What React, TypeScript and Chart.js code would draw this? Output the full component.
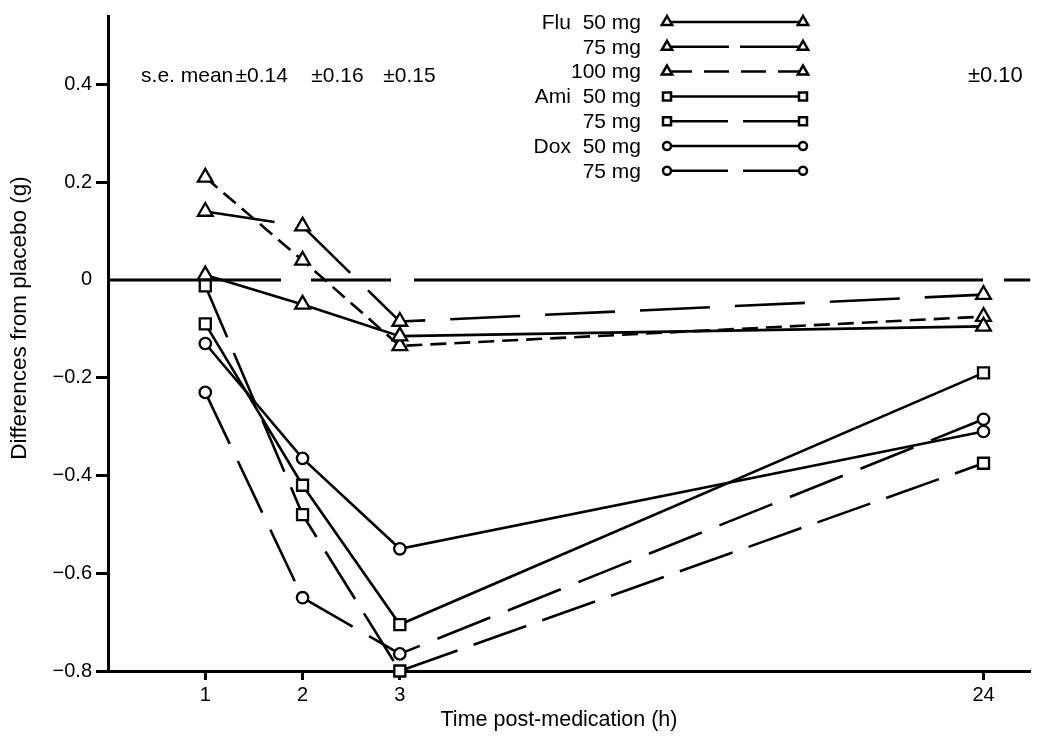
import React, { useEffect, useRef } from 'react';
import { Chart, registerables } from 'chart.js';

Chart.register(...registerables);

// ---- data ----
const timeLabels = ['1', '2', '3', '24'];
// compressed time axis: 1, 2, 3 h evenly spaced, 24 h drawn six steps after 3 h
const timePositions = [1, 2, 3, 9];
const yTickValues = [0.4, 0.2, 0, -0.2, -0.4, -0.6, -0.8];

const flu50 = [0.01, -0.05, -0.115, -0.095];
const flu75 = [0.14, 0.11, -0.085, -0.03];
const flu100 = [0.21, 0.04, -0.135, -0.075];
const ami50 = [-0.09, -0.42, -0.705, -0.19];
const ami75 = [-0.012, -0.48, -0.8, -0.375];
const dox50 = [-0.13, -0.365, -0.55, -0.31];
const dox75 = [-0.23, -0.65, -0.765, -0.285];

const legendLabels = ['Flu  50 mg', '75 mg', '100 mg', 'Ami  50 mg', '75 mg', 'Dox  50 mg', '75 mg'];
const seLabels = ['s.e. mean', '±0.14', '±0.16', '±0.15', '±0.10'];
const xTitle = 'Time post-medication (h)';
const yTitle = 'Differences from placebo (g)';

// ---- styles ----
const FONT = '"Liberation Sans", Arial, Helvetica, sans-serif';
const seriesStyles = [
  { values: flu50, marker: 'triangle', dash: [], legendDash: [] },
  { values: flu75, marker: 'triangle', dash: [70, 25], legendDash: [62, 11] },
  { values: flu100, marker: 'triangle', dash: [16, 8], legendDash: [25, 12] },
  { values: ami50, marker: 'rect', dash: [], legendDash: [] },
  { values: ami75, marker: 'rect', dash: [56, 17], legendDash: [61, 15] },
  { values: dox50, marker: 'circle', dash: [], legendDash: [] },
  { values: dox75, marker: 'circle', dash: [57, 19], legendDash: [61, 15] },
];
const markerRadius: Record<string, number> = { triangle: 8.5, rect: 7.8, circle: 5.7 };

function drawSmallMarker(ctx: CanvasRenderingContext2D, kind: string, x: number, y: number) {
  ctx.beginPath();
  if (kind === 'triangle') {
    const r = 6;
    ctx.moveTo(x, y - r);
    ctx.lineTo(x + r * 0.866, y + r / 2);
    ctx.lineTo(x - r * 0.866, y + r / 2);
    ctx.closePath();
  } else if (kind === 'rect') {
    ctx.rect(x - 4, y - 4, 8, 8);
  } else {
    ctx.arc(x, y, 4, 0, Math.PI * 2);
  }
  ctx.fillStyle = '#fff';
  ctx.fill();
  ctx.stroke();
}

const decorPlugin = {
  id: 'decor',
  beforeDatasetsDraw(chart: any) {
    const { ctx, chartArea, scales } = chart;
    const y0 = scales.y.getPixelForValue(0);
    ctx.save();
    ctx.strokeStyle = '#000';
    ctx.lineWidth = 3;
    ctx.setLineDash([173, 30, 80, 23, 569, 21, 200]);
    ctx.beginPath();
    ctx.moveTo(chartArea.left, y0);
    ctx.lineTo(chartArea.right, y0);
    ctx.stroke();
    ctx.restore();
  },
  afterDraw(chart: any) {
    const { ctx, scales } = chart;
    ctx.save();
    ctx.fillStyle = '#000';

    // axis titles
    ctx.font = `21.5px ${FONT}`;
    ctx.textAlign = 'center';
    ctx.textBaseline = 'middle';
    ctx.fillText(xTitle, 559, 720);
    ctx.save();
    ctx.translate(20, 318);
    ctx.rotate(-Math.PI / 2);
    ctx.font = `22.5px ${FONT}`;
    ctx.fillText(yTitle, 0, 0);
    ctx.restore();

    // s.e. mean annotations
    const seAnchors = [0.34, 1.31, 2.09, 2.83, 8.84];
    ctx.font = `21px ${FONT}`;
    ctx.textAlign = 'left';
    ctx.textBaseline = 'alphabetic';
    const ty = scales.y.getPixelForValue(0.405);
    seLabels.forEach((t, i) => {
      ctx.font = i === 4 ? `22px ${FONT}` : `21px ${FONT}`;
      ctx.fillText(t, scales.x.getPixelForValue(seAnchors[i]), ty);
    });

    // legend
    const textRight = 641, lx0 = 667, lx1 = 803, ly0 = 22, dy = 24.8;
    seriesStyles.forEach((s, i) => {
      const y = ly0 + i * dy;
      ctx.font = `21px ${FONT}`;
      ctx.textAlign = 'right';
      ctx.textBaseline = 'middle';
      ctx.fillStyle = '#000';
      ctx.fillText(legendLabels[i], textRight, y + 1);
      ctx.strokeStyle = '#000';
      ctx.lineWidth = 2.5;
      ctx.setLineDash(s.legendDash);
      ctx.beginPath();
      ctx.moveTo(lx0, y);
      ctx.lineTo(lx1, y);
      ctx.stroke();
      ctx.setLineDash([]);
      drawSmallMarker(ctx, s.marker, lx0, y);
      drawSmallMarker(ctx, s.marker, lx1, y);
    });
    ctx.restore();
  },
};

export default function App() {
  const canvasRef = useRef<HTMLCanvasElement | null>(null);

  useEffect(() => {
    if (!canvasRef.current) return;
    Chart.defaults.color = '#000';
    Chart.defaults.font.family = FONT;

    const datasets = seriesStyles.map((s, i) => ({
      label: legendLabels[i],
      data: s.values.map((v, j) => ({ x: timePositions[j], y: v })),
      borderColor: '#000',
      borderWidth: 2.6,
      borderDash: s.dash,
      pointStyle: s.marker,
      pointRadius: markerRadius[s.marker],
      pointBorderWidth: 2.3,
      pointBorderColor: '#000',
      pointBackgroundColor: '#fff',
      fill: false,
      tension: 0,
      clip: false,
    }));

    const chart = new Chart(canvasRef.current, {
      type: 'line',
      data: { datasets },
      plugins: [decorPlugin],
      options: {
        animation: false,
        responsive: false,
        devicePixelRatio: 1,
        layout: { padding: { top: 8, right: 6, left: 0, bottom: 0 } },
        plugins: { legend: { display: false }, tooltip: { enabled: false } },
        scales: {
          x: {
            type: 'linear',
            min: 0,
            max: 9.48,
            afterFit: (s: any) => { s.height = 69; },
            afterBuildTicks: (s: any) => { s.ticks = timePositions.map((v) => ({ value: v })); },
            border: { display: true, color: '#000', width: 3 },
            grid: { drawOnChartArea: false, drawTicks: true, tickLength: 9, tickColor: '#000', tickWidth: 3 },
            ticks: {
              autoSkip: false,
              maxRotation: 0,
              padding: 3,
              font: { size: 20 },
              callback: (v: any) => {
                const i = timePositions.indexOf(Number(v));
                return i >= 0 ? timeLabels[i] : '';
              },
            },
          },
          y: {
            type: 'linear',
            min: -0.8,
            max: 0.54,
            afterFit: (s: any) => { s.width = 108; },
            afterBuildTicks: (s: any) => { s.ticks = yTickValues.map((v) => ({ value: v })); },
            border: { display: true, color: '#000', width: 3 },
            grid: {
              drawOnChartArea: false,
              drawTicks: true,
              tickLength: 12,
              tickWidth: 3,
              tickColor: (c: any) => (c.tick && c.tick.value === 0 ? 'rgba(0,0,0,0)' : '#000'),
            },
            ticks: {
              padding: 4,
              font: { size: 20 },
              callback: (v: any) => {
                const n = Number(v);
                if (Math.abs(n) < 1e-9) return '0';
                return (n < 0 ? '\u2212' : '') + Math.abs(n).toFixed(1);
              },
            },
          },
        },
      },
    });
    return () => chart.destroy();
  }, []);

  return (
    <canvas
      ref={canvasRef}
      width={1041}
      height={740}
      style={{ position: 'fixed', left: 0, top: 0, width: 1041, height: 740, display: 'block', background: '#fff' }}
    />
  );
}
